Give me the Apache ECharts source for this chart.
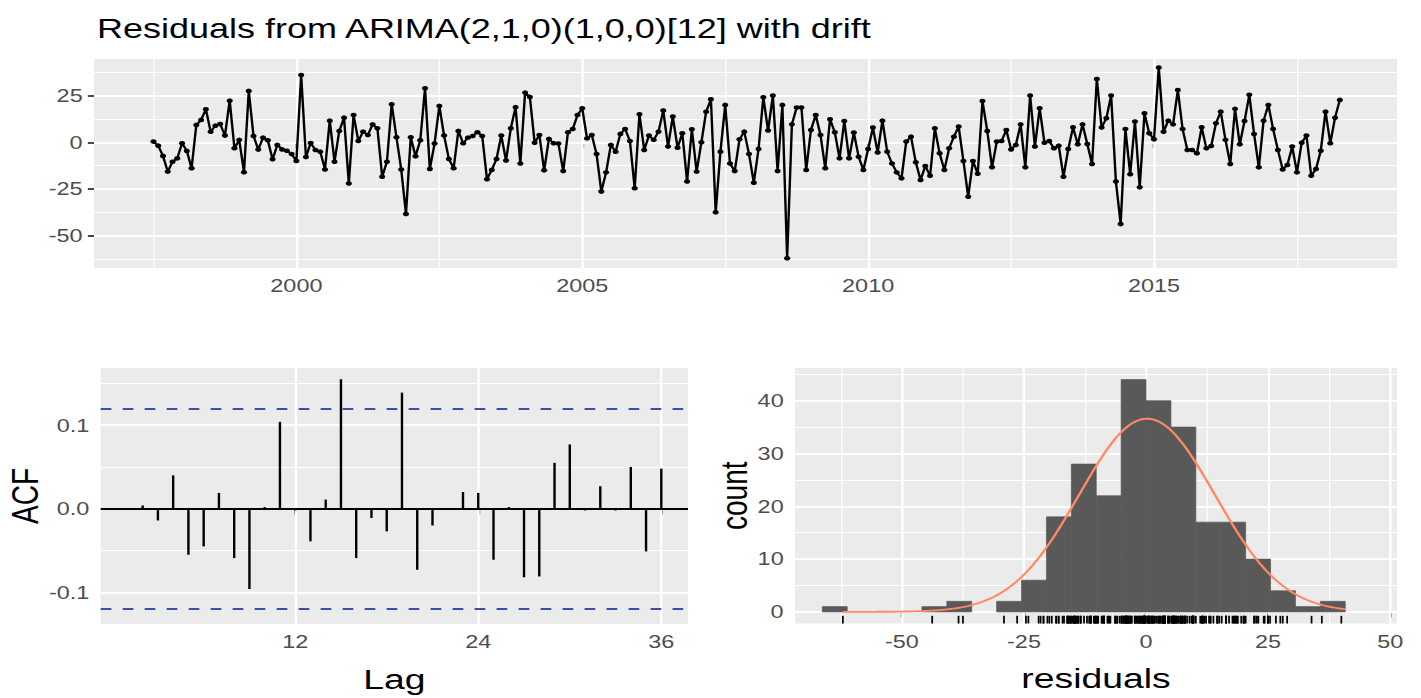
<!DOCTYPE html>
<html><head><meta charset="utf-8">
<script src="https://cdn.jsdelivr.net/npm/echarts@6/dist/echarts.min.js"></script>
<style>
html,body{margin:0;padding:0;background:#fff;overflow:hidden;}
#main{width:1066px;height:698px;transform:scaleX(1.333020);transform-origin:0 0;}
</style></head><body><div id="main"></div>
<script>
// ---- data ----
const titleText = 'Residuals from ARIMA(2,1,0)(1,0,0)[12] with drift';
const startYear = 1997.5;   // first observation (Jul 1997)
const frequency = 12;       // monthly
const residuals = [
  0.4, -1.8, -7.3, -15.7, -10.4, -8.6, -0.5, -4.6, -13.9, 9.3,
  12, 17.7, 5.7, 8.9, 9.8, 3.6, 22.3, -3.2, 1.3, -16,
  27.5, 3.4, -3.9, 2.5, 1.1, -9.1, -1.4, -3.8, -4.5, -6.3,
  -10, 36, -7.9, -0.4, -4.1, -5, -14.5, 11.6, -10.4, 6.1,
  13.2, -22, 14.6, 0.7, 5.7, 3.9, 9.6, 7.5, -18.4, -10.4,
  20.4, 2.7, -14.5, -38.4, 2.7, -7.5, 1.1, 28.9, -14.3, -0.7,
  19.5, 3.6, -8.9, -13.9, 6.1, -0.5, 2.5, 3.4, 5.4, 3.4,
  -19.8, -14.8, -8.9, 3.6, -9.8, 7.5, 18.8, -11.3, 26.6, 24.3,
  -0.2, 3.9, -15, 1.8, -0.5, -0.7, -15.4, 5.4, 7.1, 14.6,
  18.2, 2.1, 3.9, -6.3, -26.4, -16.1, -1.4, -5, 4.5, 7.1,
  0.7, -24.6, 15, -4.1, 3.6, 1.3, 5.7, 17, -2.3, 13.8,
  -2.9, 4.8, -21, 7, -15.7, 0, 16.4, 23, -37.5, -5,
  20, -11.3, -15.4, 1.6, 5.7, -6.3, -21.6, -3.6, 24.1, 6.3,
  25, -15.4, 20, -62.1, 9.6, 18.6, 18.6, -14.8, 6.6, 14.6,
  3.9, -13.9, 12.3, 5.4, -8.6, 11.4, -8.6, 5.2, -7.7, -14.8,
  -3.6, 7.9, -5.4, 11.6, -5, -11.3, -16.1, -19.3, 0.4, 3,
  -10.7, -20.2, -12.7, -17.9, 7.5, -5.9, -14.8, -3.2, 3, 8.4,
  -10, -29.1, -10, -16.8, 22.1, 6.1, -13.4, 0.4, 0.7, 6.6,
  -3.8, -1.4, 9.6, -13.4, 25, -2.3, 18.2, -0.2, 0.7, -3.2,
  -1.8, -18.4, -3.6, 8, -1.1, 9.6, -0.9, -11.6, 33.9, 7.9,
  12.9, 25, -21, -43.8, 7.1, -17.1, 11.1, -24.1, 15.5, 4.8,
  1.6, 40, 5.7, 11.6, 9.6, 28, 7.1, -4.1, -4.1, -5.9,
  8, -3.2, -2, 10.2, 16.4, 1.3, -11.6, 17.9, -1.1, 11.4,
  25.4, 4.5, -13.4, 11.6, 20, 7.1, -4.1, -14.5, -12.1, -2.3,
  -16.1, -0.2, 3.6, -17.9, -14.3, -4.5, 16.4, -0.5, 13.2, 22.7
];
const acfLags = [1,2,3,4,5,6,7,8,9,10,11,12,13,14,15,16,17,18,19,20,21,22,23,24,25,26,27,28,29,30,31,32,33,34,35,36];
const acfValues = [0.001, 0.004, -0.014, 0.040, -0.055, -0.045, 0.019, -0.059, -0.096, 0.002, 0.104, -0.002,
  -0.039, 0.011, 0.155, -0.059, -0.011, -0.027, 0.139, -0.073, -0.020, 0.000, 0.020, 0.019,
  -0.061, 0.002, -0.082, -0.081, 0.055, 0.077, -0.002, 0.027, -0.002, 0.050, -0.051, 0.048];
const acfBound = 0.124;
const binEdges = [-66.3, -61.2, -56.1, -51.0, -45.9, -40.8, -35.7, -30.6, -25.5, -20.4, -15.3,
  -10.2, -5.1, 0.0, 5.1, 10.2, 15.3, 20.4, 25.5, 30.6, 35.7, 40.8];
const binCounts = [1, 0, 0, 0, 1, 2, 0, 2, 6, 18, 28, 22, 44, 40, 35, 17, 17, 10, 4, 1, 2];
const normMean = 0.2, normSd = 13.9;

// tick labels
const tsXLabels = [2000, 2005, 2010, 2015];
const tsYLabels = [-50, -25, 0, 25];
const acfXLabels = [12, 24, 36];
const acfYLabels = [-0.1, 0, 0.1];
const histXLabels = [-50, -25, 0, 25, 50];
const histYLabels = [0, 10, 20, 30, 40];

// ---- layout / style ----
const K = 1421 / 1066;           // horizontal stretch of the reference
const FONT = 'Liberation Sans, Arial, sans-serif';
const PANEL = '#EBEBEB';
const TICKCOL = '#333333';
const LABCOL = '#4D4D4D';
const TITLEFS = 28;

function gridSeries(xi, xMajor, xMinor, yMajor, yMinor) {
  const d = [];
  const maj = {color: '#fff', width: 1.8, type: 'solid'};
  const min = {color: '#fff', width: 0.9, type: 'solid'};
  yMinor.forEach(v => d.push({yAxis: v, lineStyle: min}));
  xMinor.forEach(v => d.push({xAxis: v, lineStyle: min}));
  yMajor.forEach(v => d.push({yAxis: v, lineStyle: maj}));
  xMajor.forEach(v => d.push({xAxis: v, lineStyle: maj}));
  return {
    type: 'line', xAxisIndex: xi, yAxisIndex: xi, data: [], silent: true, z: 1,
    markLine: {z: 1, symbol: ['none', 'none'], silent: true, animation: false,
      label: {show: false}, emphasis: {disabled: true}, data: d}
  };
}

function axisBase(labels, fmt, isX) {
  return {
    axisLine: {show: false},
    splitLine: {show: false},
    axisTick: {show: true, customValues: labels, length: isX ? 5.5 : 4.6, lineStyle: {color: TICKCOL, width: isX ? 1.4 : 1.8}},
    axisLabel: {customValues: labels, formatter: fmt, color: LABCOL, fontSize: 17.6, fontFamily: FONT, margin: isX ? 9 : 8.5}
  };
}

const tsData = residuals.map((v, i) => [startYear + i / frequency, v]);
const acfData = acfLags.map((l, i) => [l, acfValues[i]]);
const histData = binCounts.map((c, i) => [binEdges[i], binEdges[i + 1], c]);
const rugData = residuals.map(v => [v, 0]);

const n = residuals.length;
const bw = binEdges[1] - binEdges[0];
const rMin = Math.min(...residuals), rMax = Math.max(...residuals);
const normData = [];
for (let x = rMin; x <= rMax + 1.0001; x += 0.25) {
  const z = (x - normMean) / normSd;
  normData.push([x, n * bw * Math.exp(-0.5 * z * z) / (normSd * Math.sqrt(2 * Math.PI))]);
}

const nameStyle = {fontSize: TITLEFS, color: '#000', fontFamily: FONT};
const chart = echarts.init(document.getElementById('main'), null, {renderer: 'svg'});
const option = {
  animation: false,
  backgroundColor: '#fff',
  title: {text: titleText, left: 97 / K, top: 15, padding: 0,
    textStyle: {fontSize: 27, fontWeight: 'normal', color: '#000', fontFamily: FONT}},
  grid: [
    {left: 94 / K, top: 59, width: (1397 - 94) / K, height: 209, show: true, backgroundColor: PANEL, borderWidth: 0, z: 0},
    {left: 100.7 / K, top: 368, width: (688 - 100.7) / K, height: 256, show: true, backgroundColor: PANEL, borderWidth: 0, z: 0},
    {left: 795 / K, top: 368, width: (1397 - 795) / K, height: 255.5, show: true, backgroundColor: PANEL, borderWidth: 0, z: 0}
  ],
  xAxis: [
    Object.assign({type: 'value', gridIndex: 0, min: 1996.46, max: 2019.25}, axisBase(tsXLabels, v => String(v), true)),
    Object.assign({type: 'value', gridIndex: 1, min: -0.75, max: 37.75, name: 'Lag', nameLocation: 'middle', nameGap: 41,
      nameTextStyle: nameStyle}, axisBase(acfXLabels, v => String(v), true)),
    Object.assign({type: 'value', gridIndex: 2, min: -71.9, max: 51.4, name: 'residuals', nameLocation: 'middle', nameGap: 41,
      nameTextStyle: nameStyle}, axisBase(histXLabels, v => String(v), true))
  ],
  yAxis: [
    Object.assign({type: 'value', gridIndex: 0, min: -67.3, max: 44.6}, axisBase(tsYLabels, v => String(v), false)),
    Object.assign({type: 'value', gridIndex: 1, min: -0.1379, max: 0.1685, name: 'ACF', nameLocation: 'middle', nameGap: 41,
      nameTextStyle: nameStyle}, axisBase(acfYLabels, v => v.toFixed(1), false)),
    Object.assign({type: 'value', gridIndex: 2, min: -2.2, max: 46.2, name: 'count', nameLocation: 'middle', nameGap: 30,
      nameTextStyle: nameStyle}, axisBase(histYLabels, v => String(v), false))
  ],
  series: [
    gridSeries(0, tsXLabels, [1997.5, 2002.5, 2007.5, 2012.5, 2017.5], tsYLabels, [-62.5, -37.5, -12.5, 12.5, 37.5]),
    gridSeries(1, acfXLabels, [], acfYLabels, [-0.05, 0.05, 0.15]),
    gridSeries(2, histXLabels, [-62.5, -37.5, -12.5, 12.5, 37.5], histYLabels, [5, 15, 25, 35, 45]),
    {
      type: 'line', xAxisIndex: 0, yAxisIndex: 0, data: tsData, z: 3,
      symbol: 'circle', symbolSize: 4.6, showSymbol: true, showAllSymbol: true,
      lineStyle: {color: '#000', width: 1.8}, itemStyle: {color: '#000'}, silent: true
    },
    {
      type: 'bar', xAxisIndex: 1, yAxisIndex: 1, data: acfData, barWidth: 1.8, z: 3,
      itemStyle: {color: '#000'}, silent: true
    },
    {
      type: 'line', xAxisIndex: 1, yAxisIndex: 1, data: [], silent: true, z: 4,
      markLine: {z: 6, symbol: ['none', 'none'], silent: true, animation: false, label: {show: false},
        data: [
          {yAxis: 0, lineStyle: {color: '#000', width: 1.9, type: 'solid'}},
          {yAxis: acfBound, lineStyle: {color: '#3A4FA8', width: 1.9, type: [8, 8.5]}},
          {yAxis: -acfBound, lineStyle: {color: '#3A4FA8', width: 1.9, type: [8, 8.5]}}
        ]}
    },
    {
      type: 'custom', xAxisIndex: 2, yAxisIndex: 2, data: histData, z: 3, silent: true,
      encode: {x: [0, 1], y: 2},
      renderItem: function (params, api) {
        if (api.value(2) <= 0) return null;
        const p0 = api.coord([api.value(0), api.value(2)]);
        const p1 = api.coord([api.value(1), 0]);
        return {type: 'rect', shape: {x: p0[0], y: p0[1], width: p1[0] - p0[0], height: p1[1] - p0[1]},
          style: {fill: '#595959', stroke: '#595959', lineWidth: 0.6}};
      }
    },
    {
      type: 'custom', xAxisIndex: 2, yAxisIndex: 2, data: rugData, z: 4, silent: true,
      encode: {x: 0, y: 1},
      renderItem: function (params, api) {
        const p = api.coord([api.value(0), 0]);
        const cs = params.coordSys;
        const yb = cs.y + cs.height;
        return {type: 'line', shape: {x1: p[0], y1: yb, x2: p[0], y2: yb - 0.03 * cs.height},
          style: {stroke: '#000', lineWidth: 1.3}};
      }
    },
    {
      type: 'line', xAxisIndex: 2, yAxisIndex: 2, data: normData, z: 5, silent: true,
      symbol: 'none', smooth: false, lineStyle: {color: '#FF8A62', width: 1.9}
    }
  ]
};
chart.setOption(option);
</script></body></html>
